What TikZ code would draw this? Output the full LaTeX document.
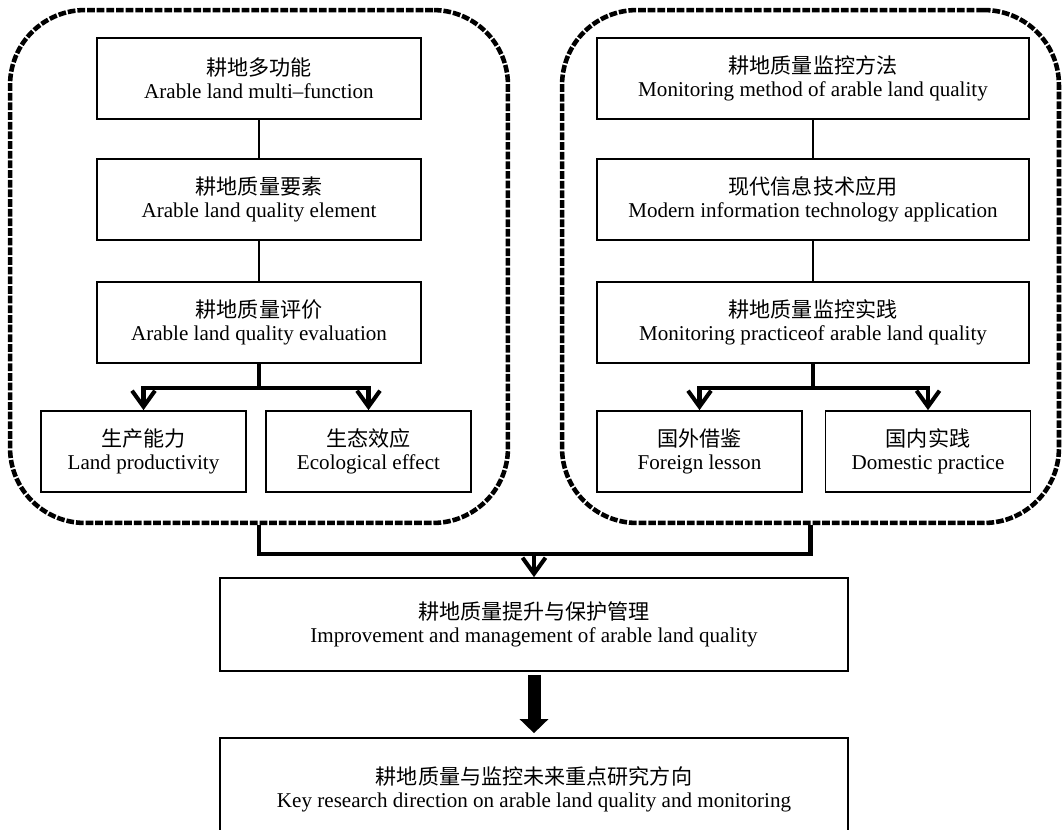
\documentclass[tikz,border=0pt]{standalone}
\usepackage{fontspec}
\setmainfont{Liberation Serif}
\newfontfamily\cjk{Noto Sans CJK SC}
\usetikzlibrary{positioning,arrows.meta}

\newcommand{\twoline}[2]{{\cjk #1}\\#2}

\begin{document}
\begin{tikzpicture}[x=0.02cm, y=-0.02cm,
    blk/.style={draw, line width=1pt, minimum height=1.62cm, align=center, inner sep=2pt,
                font=\fontsize{12}{13}\selectfont},
    colL/.style={blk, minimum width=6.48cm},
    colR/.style={blk, minimum width=8.64cm},
    leaf/.style={blk, minimum width=4.1cm},
    wide/.style={blk, minimum width=12.56cm},
    grp/.style={draw, line width=2.6pt, dash pattern=on 4.4pt off 1.1pt,
                rounded corners=1.5cm, minimum width=9.96cm, minimum height=10.26cm},
    link/.style={line width=0.8pt},
    thk/.style={line width=2.3pt},
    arr/.style={thk, -{Straight Barb[length=3.2mm, width=4.6mm]}},
    fat/.style={line width=0.26cm, -{Triangle[length=0.28cm, width=0.56cm]}}
  ]
  \useasboundingbox (0,0) rectangle (1064,829);

  % the two dashed groups
  \node[grp] (lgrp) at (259,266.5) {};
  \node[grp, minimum width=9.94cm] (rgrp) at (810.5,266.5) {};

  % left column
  \node[colL] (l1) at (259,78.5)  {\twoline{耕地多功能}{Arable land multi–function}};
  \node[colL] (l2) at (259,199.5) {\twoline{耕地质量要素}{Arable land quality element}};
  \node[colL] (l3) at (259,322.5) {\twoline{耕地质量评价}{Arable land quality evaluation}};
  \node[leaf] (l4) at (143.5,451.5) {\twoline{生产能力}{Land productivity}};
  \node[leaf] (l5) at (368.5,451.5) {\twoline{生态效应}{Ecological effect}};

  % right column
  \node[colR] (r1) at (813,78.5)  {\twoline{耕地质量监控方法}{Monitoring method of arable land quality}};
  \node[colR] (r2) at (813,199.5) {\twoline{现代信息技术应用}{Modern information technology application}};
  \node[colR] (r3) at (813,322.5) {\twoline{耕地质量监控实践}{Monitoring practiceof arable land quality}};
  \node[leaf] (r4) at (699.5,451.5) {\twoline{国外借鉴}{Foreign lesson}};
  \node[leaf] (r5) at (928,451.5)   {\twoline{国内实践}{Domestic practice}};

  % bottom
  \node[wide, minimum height=1.86cm] (mgmt) at (534,624.5)
    {\twoline{耕地质量提升与保护管理}{Improvement and management of arable land quality}};
  \node[wide, minimum height=2.04cm] (future) at (534,789)
    {\twoline{耕地质量与监控未来重点研究方向}{Key research direction on arable land quality and monitoring}};

  \draw[link] (l1) -- (l2);
  \draw[link] (l2) -- (l3);
  \draw[link] (r1) -- (r2);
  \draw[link] (r2) -- (r3);

  % forks into the leaves
  \draw[thk] (l3.south) -- ++(0,24) coordinate (lfork);
  \draw[arr] (lfork) -| (l4);
  \draw[arr] (lfork) -| (l5);
  \draw[thk] (r3.south) -- ++(0,24) coordinate (rfork);
  \draw[arr] (rfork) -| (r4);
  \draw[arr] (rfork) -| (r5);

  % groups join into the management box
  \draw[thk] (lgrp.south) -- ++(0,29) coordinate (join) -| (rgrp.south);
  \draw[arr] (join -| mgmt.north) -- (mgmt.north);

  \draw[fat, shorten <=0.06cm, shorten >=0.08cm] (mgmt) -- (future);
\end{tikzpicture}
\end{document}
